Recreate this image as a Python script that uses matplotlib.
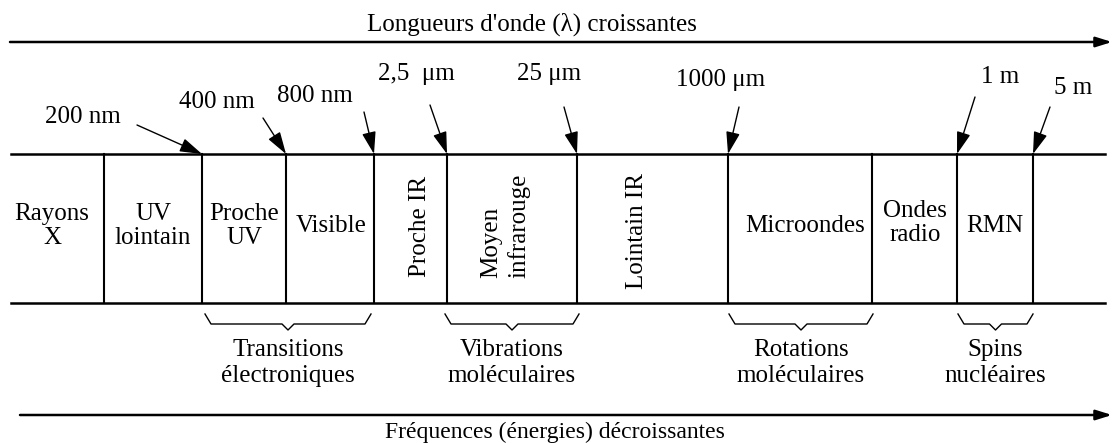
import matplotlib.pyplot as plt

plt.rcParams['font.family'] = ['Liberation Serif', 'DejaVu Serif']

# limites entre les domaines (pixels, axe horizontal)
limites = [104, 202, 286, 374, 447, 577, 728, 872, 957, 1033]

# domaines : (texte, x, y, rotation)
domaines = [
    ("Rayons\nX", 52, 226, 0),
    ("UV\nlointain", 153, 226, 0),
    ("Proche\nUV", 244, 226, 0),
    ("Visible", 331, 226, 0),
    ("Proche IR", 420, 226, 90),
    ("Moyen\ninfrarouge", 505, 226, 90),
    ("Lointain IR", 637, 231, 90),
    ("Microondes", 805, 226, 0),
    ("Ondes\nradio", 915, 223, 0),
    ("RMN", 995, 226, 0),
]

# longueurs d'onde aux limites : (texte, position texte, départ flèche, pointe)
longueurs = [
    ("200 nm", (83, 117), (137, 125), 202),
    ("400 nm", (217, 102), (263, 118), 286),
    ("800 nm", (315, 96), (364, 112), 374),
    ("2,5  μm", (416, 74), (430, 105), 447),
    ("25 μm", (549, 74), (564, 107), 577),
    ("1000 μm", (721, 80), (739, 107), 728),
    ("1 m", (1000, 77), (975, 97), 957),
    ("5 m", (1073, 88), (1050, 107), 1033),
]

# accolades sous le tableau : (x début, x fin, texte)
accolades = [
    (205, 371, "Transitions\nélectroniques"),
    (445, 579, "Vibrations\nmoléculaires"),
    (729, 873, "Rotations\nmoléculaires"),
    (958, 1033, "Spins\nnucléaires"),
]

haut = 154
bas = 303
taille = 18

fig = plt.figure(figsize=(11.13, 4.43), dpi=100)
ax = fig.add_axes([0, 0, 1, 1])
ax.set_xlim(0, 1113)
ax.set_ylim(443, 0)
ax.axis('off')

fleche = '-|>,head_length=0.8,head_width=0.25'

# flèche du haut
ax.annotate("", xy=(1112, 42), xytext=(10, 42),
            arrowprops=dict(arrowstyle=fleche, lw=1.8, color='black',
                            mutation_scale=12, shrinkA=0, shrinkB=0))
ax.text(532, 24, "Longueurs d'onde (λ) croissantes", ha='center', va='center', fontsize=taille)

# flèche du bas
ax.annotate("", xy=(1112, 415), xytext=(20, 415),
            arrowprops=dict(arrowstyle=fleche, lw=1.8, color='black',
                            mutation_scale=12, shrinkA=0, shrinkB=0))
ax.text(555, 438, "Fréquences (énergies) décroissantes", ha='center', va='baseline', fontsize=17)

# tableau
ax.plot([11, 1105], [haut, haut], color='black', lw=1.8)
ax.plot([11, 1105], [bas, bas], color='black', lw=1.8)
for x in limites:
    ax.plot([x, x], [haut, bas], color='black', lw=1.5)

for texte, x, y, rot in domaines:
    ax.text(x, y, texte, ha='center', va='center', rotation=rot, fontsize=taille,
            linespacing=1.3 if rot else 1.1, multialignment='left' if rot else 'center')

for texte, pos, depart, pointe in longueurs:
    ax.text(pos[0], pos[1], texte, ha='center', va='center', fontsize=taille)
    ax.annotate("", xy=(pointe, haut), xytext=depart,
                arrowprops=dict(arrowstyle=fleche, lw=1.0, color='black',
                                mutation_scale=17, shrinkA=0, shrinkB=0))

# accolades
for x0, x1, texte in accolades:
    xc = (x0 + x1) / 2
    xs = [x0, x0 + 6, xc - 6, xc, xc + 6, x1 - 6, x1]
    ys = [314, 324, 324, 330, 324, 324, 314]
    ax.plot(xs, ys, color='black', lw=1.0)
    ax.text(xc, 363, texte, ha='center', va='center', fontsize=taille, linespacing=1.2)

fig.savefig("out.png", dpi=100)
